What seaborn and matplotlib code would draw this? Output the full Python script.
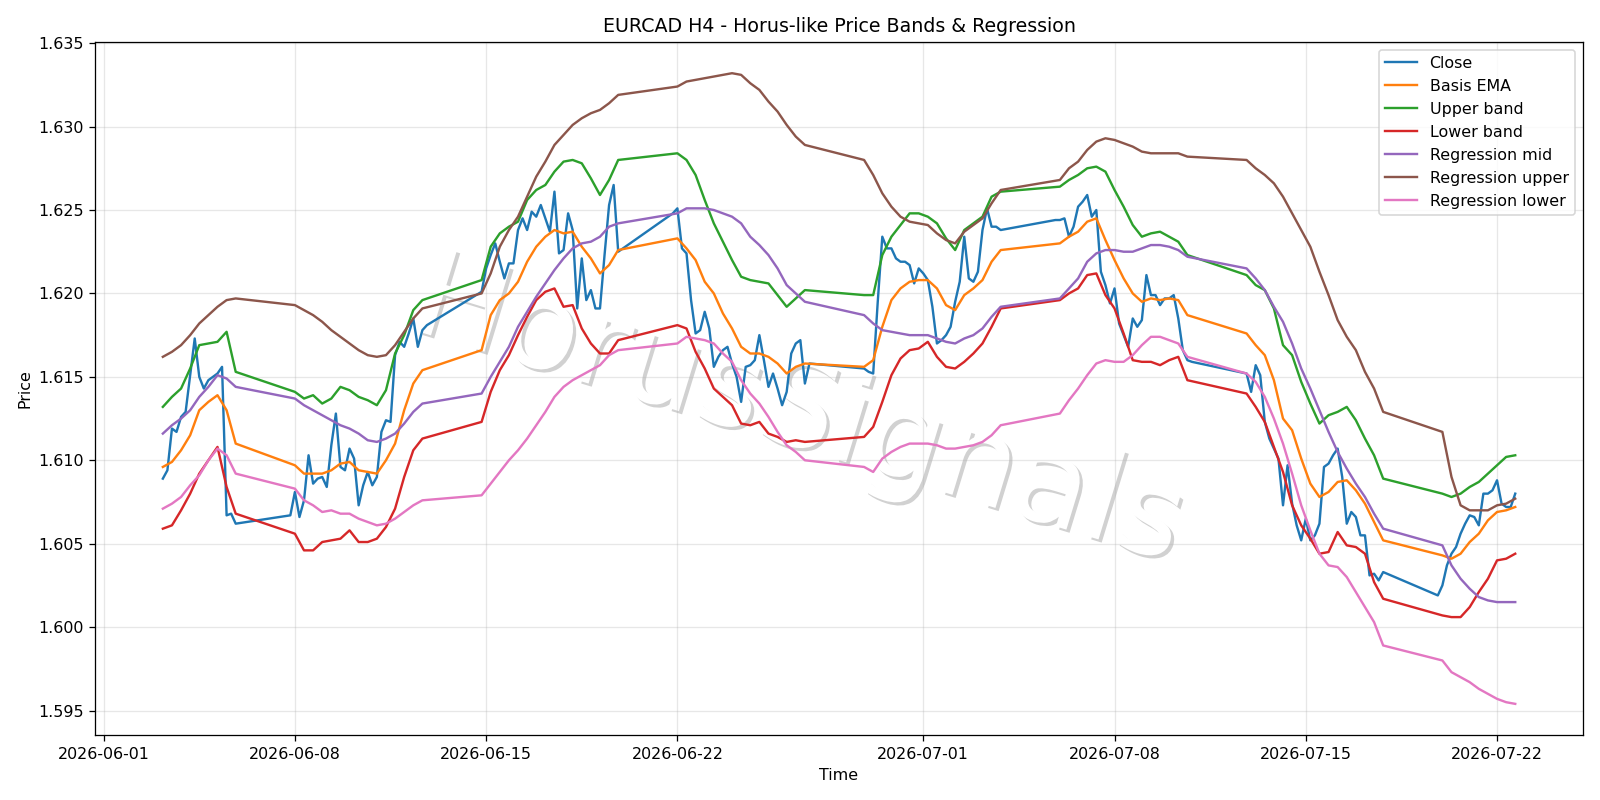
import numpy as np
import pandas as pd
import seaborn as sns
import matplotlib
matplotlib.use("Agg")
import matplotlib.pyplot as plt
import matplotlib.patheffects as pe

# H4 trading sessions (Sun 20:00 -> Fri 20:00 each week)
sessions = [("2026-06-03 04:00", "2026-06-05 20:00"),
            ("2026-06-07 20:00", "2026-06-12 20:00"),
            ("2026-06-14 20:00", "2026-06-19 20:00"),
            ("2026-06-21 20:00", "2026-06-26 20:00"),
            ("2026-06-28 20:00", "2026-07-03 20:00"),
            ("2026-07-05 20:00", "2026-07-10 20:00"),
            ("2026-07-12 20:00", "2026-07-17 20:00"),
            ("2026-07-19 20:00", "2026-07-22 16:00")]

close = [1.6089, 1.6094, 1.6119, 1.6117, 1.6126, 1.6129, 1.6151, 1.6173, 1.6150, 1.6143,
         1.6148, 1.6150, 1.6152, 1.6156, 1.6067, 1.6068, 1.6062,
         1.6067, 1.6081, 1.6066, 1.6076, 1.6103, 1.6086, 1.6089, 1.6090, 1.6084, 1.6109,
         1.6128, 1.6096, 1.6094, 1.6107, 1.6101, 1.6073, 1.6085, 1.6093, 1.6085, 1.6090,
         1.6117, 1.6124, 1.6123, 1.6163, 1.6171, 1.6168, 1.6176, 1.6185, 1.6168, 1.6178, 1.6181,
         1.6201, 1.6215, 1.6223, 1.6230, 1.6219, 1.6209, 1.6218, 1.6218, 1.6238, 1.6245,
         1.6238, 1.6249, 1.6246, 1.6253, 1.6245, 1.6237, 1.6261, 1.6224, 1.6226, 1.6248,
         1.6238, 1.6191, 1.6221, 1.6196, 1.6202, 1.6191, 1.6191, 1.6223, 1.6253, 1.6265, 1.6225,
         1.6248, 1.6251, 1.6227, 1.6224, 1.6196, 1.6176, 1.6178, 1.6189, 1.6179, 1.6156,
         1.6162, 1.6166, 1.6168, 1.6158, 1.6150, 1.6135, 1.6156, 1.6157, 1.6160, 1.6175,
         1.6160, 1.6144, 1.6152, 1.6143, 1.6133, 1.6141, 1.6164, 1.6170, 1.6172, 1.6146, 1.6158,
         1.6155, 1.6153, 1.6152, 1.6195, 1.6234, 1.6227, 1.6227, 1.6221, 1.6219, 1.6219,
         1.6217, 1.6206, 1.6215, 1.6212, 1.6208, 1.6192, 1.6170, 1.6172, 1.6175, 1.6180,
         1.6195, 1.6207, 1.6234, 1.6209, 1.6207, 1.6213, 1.6238, 1.6251, 1.6240, 1.6240, 1.6238,
         1.6244, 1.6244, 1.6245, 1.6234, 1.6240, 1.6252, 1.6255, 1.6259, 1.6246, 1.6250,
         1.6213, 1.6205, 1.6194, 1.6203, 1.6182, 1.6175, 1.6168, 1.6185, 1.6180, 1.6184,
         1.6211, 1.6199, 1.6199, 1.6193, 1.6197, 1.6197, 1.6199, 1.6185, 1.6166, 1.6160, 1.6159,
         1.6152, 1.6141, 1.6157, 1.6151, 1.6123, 1.6113, 1.6107, 1.6101, 1.6073, 1.6097,
         1.6074, 1.6061, 1.6052, 1.6065, 1.6052, 1.6055, 1.6062, 1.6096, 1.6098, 1.6103,
         1.6107, 1.6090, 1.6062, 1.6069, 1.6066, 1.6055, 1.6055, 1.6031, 1.6032, 1.6028, 1.6033,
         1.6019, 1.6025, 1.6037, 1.6044, 1.6048, 1.6056, 1.6062, 1.6067, 1.6066, 1.6061,
         1.6080, 1.6080, 1.6082, 1.6088, 1.6074, 1.6072, 1.6072, 1.6080]

# smoother series, read every second bar
basis_ema = [1.6096, 1.6099, 1.6106, 1.6115, 1.6130, 1.6135, 1.6139, 1.6130, 1.6110, 1.6097, 1.6092, 1.6092, 1.6092, 1.6094,
             1.6098, 1.6099, 1.6094, 1.6093, 1.6092, 1.6100, 1.6110, 1.6130, 1.6146, 1.6154, 1.6166, 1.6187, 1.6196, 1.6200,
             1.6207, 1.6219, 1.6228, 1.6234, 1.6238, 1.6236, 1.6237, 1.6228, 1.6221, 1.6212, 1.6217, 1.6226, 1.6233, 1.6227,
             1.6220, 1.6207, 1.6200, 1.6188, 1.6179, 1.6168, 1.6164, 1.6164, 1.6162, 1.6158, 1.6152, 1.6156, 1.6158, 1.6156, 1.6160,
             1.6180, 1.6196, 1.6203, 1.6207, 1.6208, 1.6208, 1.6203, 1.6193, 1.6190, 1.6199, 1.6203, 1.6208, 1.6219, 1.6226,
             1.6230, 1.6234, 1.6237, 1.6243, 1.6245, 1.6232, 1.6220, 1.6209, 1.6200, 1.6195, 1.6197, 1.6196, 1.6197, 1.6196, 1.6187,
             1.6176, 1.6169, 1.6163, 1.6148, 1.6125, 1.6118, 1.6101, 1.6086, 1.6078, 1.6081, 1.6087, 1.6088, 1.6082, 1.6074, 1.6063, 1.6052,
             1.6043, 1.6041, 1.6044, 1.6051, 1.6056, 1.6064, 1.6069, 1.6070, 1.6072]

upper_band = [1.6132, 1.6138, 1.6143, 1.6155, 1.6169, 1.6170, 1.6171, 1.6177, 1.6153, 1.6141, 1.6137, 1.6139, 1.6134, 1.6137,
              1.6144, 1.6142, 1.6138, 1.6136, 1.6133, 1.6142, 1.6164, 1.6175, 1.6190, 1.6196, 1.6208, 1.6228, 1.6236, 1.6240,
              1.6243, 1.6256, 1.6262, 1.6265, 1.6273, 1.6279, 1.6280, 1.6278, 1.6269, 1.6259, 1.6268, 1.6280, 1.6284, 1.6280,
              1.6271, 1.6256, 1.6242, 1.6231, 1.6220, 1.6210, 1.6208, 1.6207, 1.6206, 1.6199, 1.6192, 1.6197, 1.6202, 1.6199, 1.6199,
              1.6223, 1.6234, 1.6241, 1.6248, 1.6248, 1.6246, 1.6242, 1.6233, 1.6226, 1.6238, 1.6242, 1.6246, 1.6258, 1.6261,
              1.6264, 1.6268, 1.6271, 1.6275, 1.6276, 1.6273, 1.6262, 1.6252, 1.6241, 1.6234, 1.6236, 1.6237, 1.6234, 1.6231, 1.6223,
              1.6211, 1.6205, 1.6202, 1.6191, 1.6169, 1.6163, 1.6147, 1.6134, 1.6122, 1.6127, 1.6129, 1.6132, 1.6124, 1.6113, 1.6103, 1.6089,
              1.6080, 1.6078, 1.6080, 1.6084, 1.6087, 1.6092, 1.6097, 1.6102, 1.6103]

lower_band = [1.6059, 1.6061, 1.6070, 1.6080, 1.6092, 1.6100, 1.6108, 1.6084, 1.6068, 1.6056, 1.6046, 1.6046, 1.6051, 1.6052,
              1.6053, 1.6058, 1.6051, 1.6051, 1.6053, 1.6060, 1.6071, 1.6090, 1.6106, 1.6113, 1.6123, 1.6141, 1.6154, 1.6163,
              1.6175, 1.6186, 1.6196, 1.6201, 1.6203, 1.6192, 1.6193, 1.6179, 1.6170, 1.6164, 1.6164, 1.6172, 1.6181, 1.6179,
              1.6165, 1.6155, 1.6143, 1.6138, 1.6133, 1.6122, 1.6121, 1.6123, 1.6116, 1.6114, 1.6111, 1.6112, 1.6111, 1.6114, 1.6120,
              1.6135, 1.6151, 1.6161, 1.6166, 1.6167, 1.6171, 1.6162, 1.6156, 1.6155, 1.6159, 1.6164, 1.6170, 1.6180, 1.6191,
              1.6196, 1.6200, 1.6203, 1.6211, 1.6212, 1.6199, 1.6191, 1.6176, 1.6160, 1.6159, 1.6159, 1.6157, 1.6160, 1.6162, 1.6148,
              1.6140, 1.6132, 1.6123, 1.6108, 1.6093, 1.6073, 1.6061, 1.6053, 1.6044, 1.6045, 1.6057, 1.6049, 1.6048, 1.6044, 1.6027, 1.6017,
              1.6007, 1.6006, 1.6006, 1.6012, 1.6021, 1.6029, 1.6040, 1.6041, 1.6044]

reg_mid = [1.6116, 1.6121, 1.6125, 1.6130, 1.6138, 1.6144, 1.6151, 1.6149, 1.6144, 1.6137, 1.6133, 1.6130, 1.6127, 1.6124,
           1.6121, 1.6119, 1.6116, 1.6112, 1.6111, 1.6113, 1.6116, 1.6122, 1.6129, 1.6134, 1.6140, 1.6150, 1.6159, 1.6168,
           1.6180, 1.6189, 1.6198, 1.6206, 1.6214, 1.6221, 1.6227, 1.6230, 1.6231, 1.6234, 1.6240, 1.6242, 1.6248, 1.6251,
           1.6251, 1.6251, 1.6250, 1.6248, 1.6246, 1.6242, 1.6234, 1.6229, 1.6223, 1.6215, 1.6205, 1.6200, 1.6195, 1.6187, 1.6182,
           1.6178, 1.6177, 1.6176, 1.6175, 1.6175, 1.6175, 1.6173, 1.6171, 1.6170, 1.6173, 1.6175, 1.6179, 1.6186, 1.6192,
           1.6197, 1.6203, 1.6209, 1.6219, 1.6224, 1.6226, 1.6226, 1.6225, 1.6225, 1.6227, 1.6229, 1.6229, 1.6228, 1.6226, 1.6222,
           1.6215, 1.6209, 1.6202, 1.6192, 1.6183, 1.6170, 1.6155, 1.6143, 1.6130, 1.6117, 1.6105, 1.6095, 1.6086, 1.6078, 1.6068, 1.6059,
           1.6049, 1.6037, 1.6029, 1.6023, 1.6018, 1.6016, 1.6015, 1.6015, 1.6015]

reg_upper = [1.6162, 1.6165, 1.6169, 1.6175, 1.6182, 1.6187, 1.6192, 1.6196, 1.6197, 1.6193, 1.6190, 1.6187, 1.6183, 1.6178,
             1.6174, 1.6170, 1.6166, 1.6163, 1.6162, 1.6163, 1.6169, 1.6177, 1.6185, 1.6191, 1.6200, 1.6212, 1.6228, 1.6238,
             1.6246, 1.6258, 1.6270, 1.6279, 1.6289, 1.6295, 1.6301, 1.6305, 1.6308, 1.6310, 1.6314, 1.6319, 1.6324, 1.6327,
             1.6328, 1.6329, 1.6330, 1.6331, 1.6332, 1.6331, 1.6326, 1.6322, 1.6315, 1.6309, 1.6301, 1.6294, 1.6289, 1.6280, 1.6271,
             1.6260, 1.6252, 1.6246, 1.6243, 1.6242, 1.6241, 1.6236, 1.6232, 1.6230, 1.6237, 1.6241, 1.6245, 1.6254, 1.6262,
             1.6268, 1.6275, 1.6279, 1.6286, 1.6291, 1.6293, 1.6292, 1.6290, 1.6288, 1.6285, 1.6284, 1.6284, 1.6284, 1.6284, 1.6282,
             1.6280, 1.6275, 1.6271, 1.6266, 1.6258, 1.6248, 1.6238, 1.6228, 1.6213, 1.6199, 1.6184, 1.6174, 1.6166, 1.6153, 1.6143, 1.6129,
             1.6117, 1.6090, 1.6073, 1.6070, 1.6070, 1.6070, 1.6073, 1.6074, 1.6077]

reg_lower = [1.6071, 1.6074, 1.6078, 1.6085, 1.6091, 1.6100, 1.6107, 1.6103, 1.6092, 1.6083, 1.6076, 1.6073, 1.6069, 1.6070,
             1.6068, 1.6068, 1.6065, 1.6063, 1.6061, 1.6062, 1.6065, 1.6069, 1.6073, 1.6076, 1.6079, 1.6086, 1.6093, 1.6100,
             1.6106, 1.6113, 1.6121, 1.6129, 1.6138, 1.6144, 1.6148, 1.6151, 1.6154, 1.6157, 1.6163, 1.6166, 1.6170, 1.6174,
             1.6173, 1.6172, 1.6170, 1.6164, 1.6159, 1.6148, 1.6140, 1.6134, 1.6126, 1.6117, 1.6109, 1.6105, 1.6100, 1.6096, 1.6093,
             1.6101, 1.6105, 1.6108, 1.6110, 1.6110, 1.6110, 1.6109, 1.6107, 1.6107, 1.6108, 1.6109, 1.6111, 1.6115, 1.6121,
             1.6128, 1.6136, 1.6143, 1.6151, 1.6158, 1.6160, 1.6159, 1.6159, 1.6163, 1.6169, 1.6174, 1.6174, 1.6172, 1.6170, 1.6162,
             1.6152, 1.6147, 1.6138, 1.6125, 1.6110, 1.6092, 1.6073, 1.6058, 1.6044, 1.6037, 1.6036, 1.6030, 1.6021, 1.6012, 1.6003, 1.5989,
             1.5980, 1.5973, 1.5970, 1.5967, 1.5963, 1.5960, 1.5957, 1.5955, 1.5954]

times = pd.DatetimeIndex(np.concatenate([pd.date_range(a, b, freq="4h").values for a, b in sessions]))
times2 = times[::2]

DPI = 1600 / 14
fig, ax = plt.subplots(figsize=(14, 7), dpi=DPI)

ax.text(0.473, 0.465, "HorusSignals", transform=ax.transAxes, fontsize=77,
        color="white", rotation=-17, ha="center", va="center", zorder=1,
        path_effects=[pe.withSimplePatchShadow(offset=(2, -2), shadow_rgbFace="#999999", alpha=0.45)])

sns.lineplot(x=times, y=close, ax=ax, label="Close", color="tab:blue")
sns.lineplot(x=times2, y=basis_ema, ax=ax, label="Basis EMA", color="tab:orange")
sns.lineplot(x=times2, y=upper_band, ax=ax, label="Upper band", color="tab:green")
sns.lineplot(x=times2, y=lower_band, ax=ax, label="Lower band", color="tab:red")
sns.lineplot(x=times2, y=reg_mid, ax=ax, label="Regression mid", color="tab:purple")
sns.lineplot(x=times2, y=reg_upper, ax=ax, label="Regression upper", color="tab:brown")
sns.lineplot(x=times2, y=reg_lower, ax=ax, label="Regression lower", color="tab:pink")

ax.set_title("EURCAD H4 - Horus-like Price Bands & Regression")
ax.set_xlabel("Time")
ax.set_ylabel("Price")
ax.grid(True, alpha=0.3)
ax.legend(loc="upper right")

plt.tight_layout()
plt.savefig("out.png", dpi=DPI)
